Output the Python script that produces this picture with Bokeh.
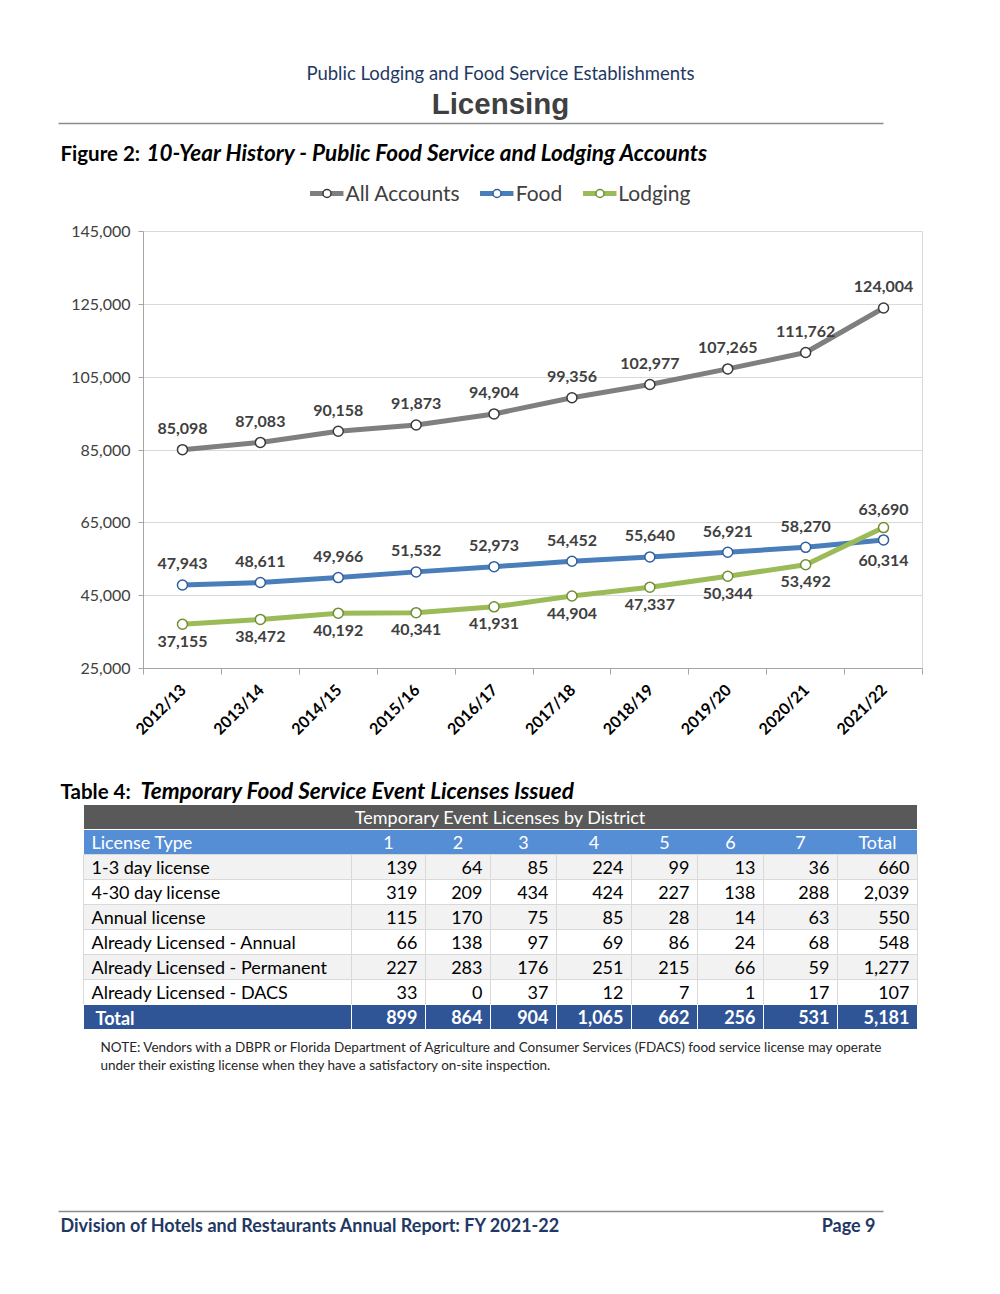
import numpy as np
from bokeh.plotting import figure
from bokeh.models import (Range1d, FixedTicker, NumeralTickFormatter, Legend,
                          LegendItem, ColumnDataSource)
from bokeh.layouts import column
from bokeh.embed import file_html
from bokeh.resources import INLINE
from bokeh.core.properties import value
from math import pi

# ---------------- data ----------------
years = ["2012/13", "2013/14", "2014/15", "2015/16", "2016/17",
         "2017/18", "2018/19", "2019/20", "2020/21", "2021/22"]
all_accounts = [85098, 87083, 90158, 91873, 94904, 99356, 102977, 107265, 111762, 124004]
food = [47943, 48611, 49966, 51532, 52973, 54452, 55640, 56921, 58270, 60314]
lodging = [37155, 38472, 40192, 40341, 41931, 44904, 47337, 50344, 53492, 63690]
y_ticks = [25000, 45000, 65000, 85000, 105000, 125000, 145000]

table_columns = ["License Type", "1", "2", "3", "4", "5", "6", "7", "Total"]
license_types = ["1-3 day license", "4-30 day license", "Annual license",
                 "Already Licensed - Annual", "Already Licensed - Permanent",
                 "Already Licensed - DACS"]
district_1 = [139, 319, 115, 66, 227, 33]
district_2 = [64, 209, 170, 138, 283, 0]
district_3 = [85, 434, 75, 97, 176, 37]
district_4 = [224, 424, 85, 69, 251, 12]
district_5 = [99, 227, 28, 86, 215, 7]
district_6 = [13, 138, 14, 24, 66, 1]
district_7 = [36, 288, 63, 68, 59, 17]
row_totals = [660, 2039, 550, 548, 1277, 107]
district_totals = [899, 864, 904, 1065, 662, 256, 531]
grand_total = 5181

FONT = "Lato"
DARK = "#404040"
NAVY = "#1f3864"


def page_fig(h, top):
    p = figure(width=1000, height=h, x_range=Range1d(0, 1000),
               y_range=Range1d(top + h, top), output_backend="svg",
               toolbar_location=None, x_axis_location=None,
               y_axis_location=None, min_border=0, frame_align=False)
    p.grid.visible = False
    p.outline_line_color = None
    return p


def txt(p, x, y, s, size, color="#000000", style="normal", align="left",
        font=FONT, baseline="middle"):
    p.text(x=[x], y=[y], text=[s], text_font=value(font),
           text_font_size=f"{size}px", text_color=color,
           text_font_style=style, text_align=align, text_baseline=baseline)


n = len(years)
series = [
    ("All Accounts", all_accounts, "#7f7f7f", "#3a3a3a", [-21] * n),
    ("Food", food, "#4a7ebb", "#2f5f9e", [-21] * (n - 1) + [21]),
    ("Lodging", lodging, "#9bbb59", "#6f8f30", [17] * (n - 1) + [-18]),
]

# ---------------- header (titles + legend) ----------------
H1 = 215
head = page_fig(H1, 0)
txt(head, 500, 72, "Public Lodging and Food Service Establishments", 18.5, NAVY, align="center")
txt(head, 500, 103, "Licensing", 29.5, DARK, "bold", "center", font="Liberation Sans")
head.segment(x0=[58], y0=[123], x1=[883], y1=[123], line_color="#8c8c8c", line_width=1.5)
txt(head, 60, 152, "Figure 2:", 20.5, "#000000", "bold")
txt(head, 146, 152, "10-Year History - Public Food Service and Lodging Accounts", 22.5,
    "#000000", "bold italic")

# legend keys: style proxies (no visible points) that mirror the chart's series
nan1 = np.array([np.nan])
items = []
for name, vals, color, edge, offs in series:
    kl = head.line(x=nan1, y=nan1, line_color=color, line_width=5)
    ks = head.scatter(x=nan1, y=nan1, size=10, fill_color="white", line_color=edge, line_width=1.5)
    items.append(LegendItem(label=name, renderers=[kl, ks]))
legend = Legend(items=items, orientation="horizontal", location="bottom_center",
                label_text_font=FONT, label_text_font_size="21px",
                label_text_color=DARK, border_line_color=None,
                background_fill_alpha=0, glyph_width=34, glyph_height=20,
                spacing=20, padding=0, margin=10, label_standoff=2)
head.add_layout(legend)

# ---------------- chart ----------------
H2 = 760 - H1
xs = list(range(n))
p = figure(width=1000, height=H2, x_range=Range1d(-0.5, n - 0.5),
           y_range=Range1d(y_ticks[0], y_ticks[-1]), output_backend="svg",
           toolbar_location=None, min_border_left=143, min_border_right=78,
           min_border_top=231 - H1, min_border_bottom=92, frame_align=False)
p.outline_line_color = "#d9d9d9"
p.xgrid.visible = False
p.ygrid.ticker = FixedTicker(ticks=y_ticks)
p.ygrid.grid_line_color = "#d9d9d9"

p.yaxis.ticker = FixedTicker(ticks=y_ticks)
p.yaxis.formatter = NumeralTickFormatter(format="0,0")
p.yaxis.major_tick_in = 0
p.yaxis.major_tick_out = 5
p.yaxis.minor_tick_line_color = None
p.yaxis.axis_line_color = "#a6a6a6"
p.yaxis.major_tick_line_color = "#a6a6a6"
p.yaxis.major_label_text_font = FONT
p.yaxis.major_label_text_font_size = "16px"
p.yaxis.major_label_text_color = DARK
p.yaxis.major_label_standoff = 8

p.xaxis.ticker = FixedTicker(ticks=xs, minor_ticks=[i - 0.5 for i in range(n + 1)])
p.xaxis.major_label_overrides = {i: y for i, y in enumerate(years)}
p.xaxis.major_tick_line_color = None
p.xaxis.minor_tick_in = 0
p.xaxis.minor_tick_out = 6
p.xaxis.minor_tick_line_color = "#a6a6a6"
p.xaxis.axis_line_color = "#a6a6a6"
p.xaxis.major_label_orientation = pi / 4
p.xaxis.major_label_text_font = FONT
p.xaxis.major_label_text_font_size = "16px"
p.xaxis.major_label_text_font_style = "bold"
p.xaxis.major_label_text_color = "#000000"
p.xaxis.major_label_standoff = 12

for name, vals, color, edge, offs in series:
    p.line(xs, vals, line_color=color, line_width=5, line_join="round")
    p.scatter(xs, vals, size=10, fill_color="white", line_color=edge, line_width=1.5)
for name, vals, color, edge, offs in series:
    src = ColumnDataSource(dict(x=xs, y=vals, t=[f"{v:,}" for v in vals], dy=offs))
    p.text(x="x", y="y", text="t", y_offset="dy", source=src,
           text_font=value(FONT), text_font_size="16px", text_font_style="bold",
           text_color=DARK, text_align="center", text_baseline="middle")

# ---------------- table + footer ----------------
H3 = 1294 - 760
tb = page_fig(H3, 760)
txt(tb, 60, 790, "Table 4:", 20.5, "#000000", "bold")
txt(tb, 140, 790, "Temporary Food Service Event Licenses Issued", 22.6, "#000000", "bold italic")

col_edges = [83, 351, 425, 490, 556, 631, 697, 763, 837, 917]
row_h = 25
top1 = 804
TS = 18

# header row 1
tb.quad(left=[col_edges[0]], right=[col_edges[-1]], top=[top1], bottom=[top1 + row_h],
        fill_color="#595959", line_color="white", line_width=1)
txt(tb, 500, top1 + row_h / 2, "Temporary Event Licenses by District", TS, "white", align="center")
# header row 2
top2 = top1 + row_h
tb.quad(left=[col_edges[0]], right=[col_edges[-1]], top=[top2], bottom=[top2 + row_h],
        fill_color="#558ed5", line_color="white", line_width=1)
for j, c in enumerate(table_columns):
    if j == 0:
        txt(tb, col_edges[0] + 8, top2 + row_h / 2, c, TS, "white")
    else:
        txt(tb, (col_edges[j] + col_edges[j + 1]) / 2, top2 + row_h / 2, c, TS, "white", align="center")

districts = [district_1, district_2, district_3, district_4, district_5, district_6, district_7]
body_top = top2 + row_h
L, R, T, B, F = [], [], [], [], []
for i, lt in enumerate(license_types):
    t = body_top + i * row_h
    for j in range(len(table_columns)):
        L.append(col_edges[j]); R.append(col_edges[j + 1])
        T.append(t); B.append(t + row_h)
        F.append("#f2f2f2" if i % 2 == 0 else "white")
tb.quad(left=L, right=R, top=T, bottom=B, fill_color=F, line_color="#d9d9d9", line_width=1)
for i, lt in enumerate(license_types):
    cy = body_top + i * row_h + row_h / 2
    txt(tb, col_edges[0] + 8, cy, lt, TS, "#000000")
    row_vals = [d[i] for d in districts] + [row_totals[i]]
    for j, v in enumerate(row_vals):
        txt(tb, col_edges[j + 2] - 8, cy, f"{v:,}", TS, "#000000", align="right")

# total row
tt = body_top + len(license_types) * row_h
tb.quad(left=col_edges[:-1], right=col_edges[1:], top=[tt] * (len(col_edges) - 1),
        bottom=[tt + row_h] * (len(col_edges) - 1), fill_color="#2f5597",
        line_color="white", line_width=1)
txt(tb, col_edges[0] + 12, tt + row_h / 2 + 1, "Total", TS, "white", "bold")
for j, v in enumerate(district_totals + [grand_total]):
    txt(tb, col_edges[j + 2] - 8, tt + row_h / 2, f"{v:,}", TS, "white", "bold", align="right")

txt(tb, 100, 1046, "NOTE: Vendors with a DBPR or Florida Department of Agriculture and Consumer Services (FDACS) food service license may operate",
    13.5, "#262626")
txt(tb, 100, 1064, "under their existing license when they have a satisfactory on-site inspection.", 13.5, "#262626")

tb.segment(x0=[58], y0=[1211], x1=[883], y1=[1211], line_color="#8c8c8c", line_width=1.5)
txt(tb, 60, 1224, "Division of Hotels and Restaurants Annual Report: FY 2021-22", 18, NAVY, "bold")
txt(tb, 875, 1224, "Page 9", 18, NAVY, "bold", align="right")

page = column(head, p, tb, spacing=0)
open("out.html", "w").write(file_html(page, INLINE))
